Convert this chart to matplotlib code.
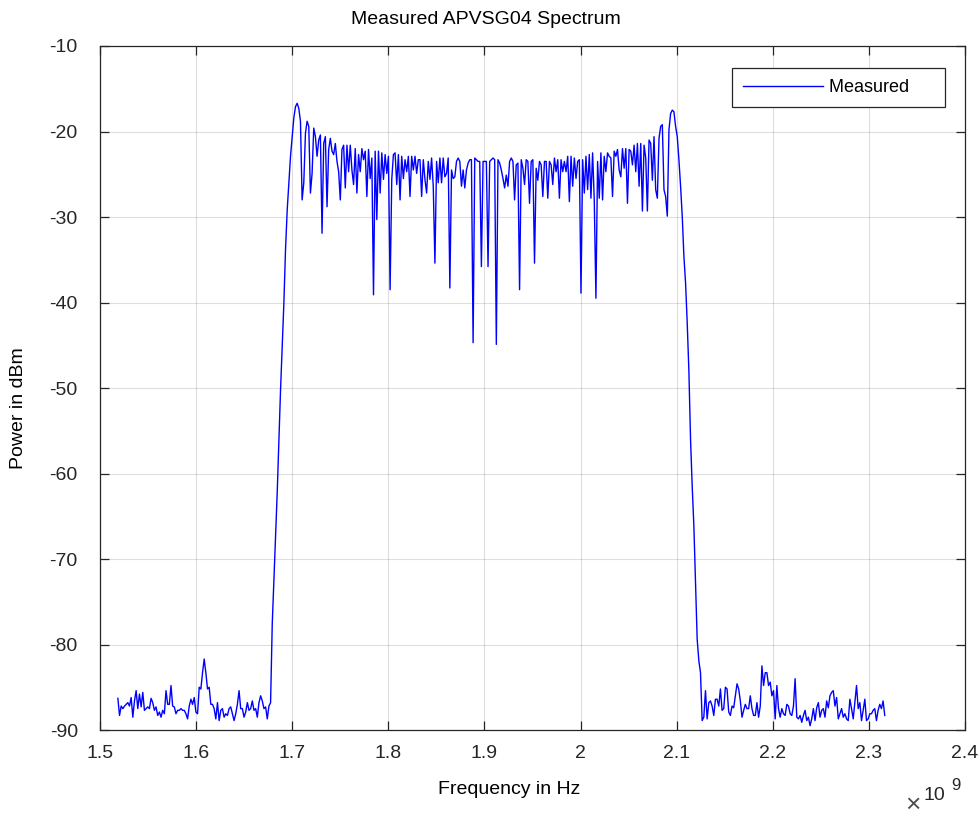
import numpy as np
import matplotlib.pyplot as plt
from matplotlib.ticker import FuncFormatter, MultipleLocator

plt.rcParams['font.family'] = ['Liberation Sans', 'DejaVu Sans']
plt.rcParams['axes.unicode_minus'] = False

# measured sweep, equally spaced samples (Hz)
f_start = 1.5186e9
f_stop = 2.3165e9

noise_left = [
    -86.3, -88.3, -87.2, -87.5, -87.2, -87.0, -86.8, -87.2, -86.2, -88.5,
    -86.6, -85.4, -87.5, -85.8, -87.3, -85.6, -87.7, -87.5, -87.3, -87.5,
    -86.3, -86.8, -87.7, -87.3, -88.3, -87.9, -88.5, -87.7, -88.1, -85.4,
    -87.0, -87.0, -84.8, -87.2, -87.3, -88.1, -87.7, -87.7, -87.5, -87.7,
    -87.7, -88.1, -88.7, -87.2, -86.4, -87.0, -86.2, -87.9, -88.1, -85.0,
    -85.2, -83.3, -81.7, -83.3, -85.2, -85.0, -87.0, -87.0, -87.5, -88.7,
    -86.8, -88.9, -87.7, -87.5, -88.5, -88.1, -88.3, -87.5, -87.3, -88.1,
    -88.9, -88.1, -87.0, -85.4, -87.5, -87.5, -88.5, -87.9, -86.8, -87.7,
    -87.5, -86.6, -87.7, -87.5, -88.5, -86.8, -86.0, -86.6, -87.5, -87.3,
    -88.7, -87.2, -86.8,
]

rise = [-77.6, -72.4, -67.1, -62.2, -56.0, -50.2, -45.0]

band_low = [
    -40.1, -33.8, -29.2, -26.0, -22.9, -20.6, -18.4, -17.1, -16.7, -17.3,
    -18.8, -28.0, -26.0, -20.2, -18.8, -19.4, -27.2, -24.9, -19.6, -20.6,
    -22.9, -21.0, -20.4, -31.9, -21.4, -20.6, -28.8, -22.1, -20.8, -22.3,
    -22.7, -21.4, -23.5, -24.7, -28.0, -22.1, -21.6, -26.6, -21.6, -24.7,
    -21.6, -24.5, -26.2, -22.0, -27.2, -22.7, -24.7, -22.0, -23.3, -22.3,
    -27.6, -22.1, -25.5, -23.1, -39.1, -22.3, -30.3, -22.3, -27.2, -22.5,
    -25.6, -22.7, -24.9, -22.9, -38.5, -25.6, -22.7, -22.5, -26.2, -22.7,
    -28.0, -22.9, -25.5, -23.3, -24.7, -22.9, -27.6, -22.9, -24.5, -22.9,
    -24.9, -23.3, -23.3, -27.6, -23.3, -25.6, -27.2, -23.5, -25.6, -23.1,
    -26.4, -35.4, -23.5, -26.0, -23.1, -26.0, -23.1, -25.3, -24.9, -23.1,
    -38.3, -24.5, -25.5, -25.3, -23.5, -23.1, -23.5, -26.4, -24.5, -26.6,
    -24.5, -23.7, -23.3, -23.3, -44.7, -23.1, -23.3, -23.5,
]

band_high = [
    -23.5, -35.8, -23.5, -23.5, -23.5, -35.8, -23.5, -23.3, -23.1, -23.3,
    -44.9, -23.3, -23.7, -24.5, -25.5, -26.6, -25.1, -26.4, -23.5, -23.1,
    -23.5, -28.0, -23.9, -23.7, -38.5, -23.3, -24.3, -26.2, -23.3, -23.5,
    -28.4, -23.5, -23.3, -35.4, -24.3, -25.7, -23.5, -23.9, -27.6, -23.5,
    -23.5, -27.8, -23.5, -23.9, -26.2, -23.1, -24.7, -23.3, -27.8, -23.3,
    -24.7, -23.5, -24.7, -22.9, -28.2, -22.9, -26.4, -23.1, -25.5, -23.5,
    -23.3, -38.9, -23.3, -27.2, -22.9, -26.8, -22.7, -27.8, -22.5, -28.0,
    -39.5, -23.5, -27.8, -22.5, -28.0, -22.9, -24.7, -22.5, -22.9, -23.1,
    -27.6, -22.3, -22.9, -22.1, -24.5, -25.3, -22.0, -24.3, -22.0, -28.4,
    -22.1, -22.3, -23.9, -21.6, -24.7, -21.4, -26.4, -21.4, -29.3, -21.6,
    -23.1, -29.3, -21.0, -21.4, -25.7, -20.6, -26.8, -27.8, -20.8, -19.4,
    -19.2, -26.8, -27.6, -29.9, -19.8, -17.9, -17.5, -17.7, -19.4, -20.6,
    -23.3, -26.4, -29.9, -34.6, -37.7, -42.4,
]

fall = [-48.0, -56.0, -61.5, -66.1, -72.8, -79.4, -81.9, -83.3]

noise_right = [
    -88.9, -88.5, -85.4, -88.7, -86.8, -86.6, -87.2, -88.3, -86.4, -86.4,
    -87.2, -85.2, -87.7, -87.5, -85.0, -85.2, -87.9, -88.3, -87.2, -87.4,
    -86.0, -84.6, -85.2, -86.6, -88.5, -87.7, -87.0, -87.5, -87.5, -86.0,
    -87.5, -88.3, -88.3, -86.8, -88.5, -87.2, -82.5, -84.8, -83.3, -83.3,
    -84.8, -84.4, -86.0, -85.4, -88.7, -84.8, -87.5, -88.5, -87.5, -88.1,
    -88.3, -87.0, -87.2, -88.1, -88.3, -87.2, -84.0, -88.5, -88.7, -88.3,
    -89.1, -88.3, -87.7, -88.9, -88.5, -89.5, -88.7, -87.5, -88.9, -87.4,
    -86.8, -88.5, -87.7, -87.5, -88.5, -86.6, -87.4, -86.0, -85.6, -85.4,
    -87.2, -86.2, -88.7, -88.1, -87.5, -88.5, -88.1, -88.7, -88.9, -86.4,
    -87.5, -88.7, -86.8, -84.8, -87.5, -86.8, -88.9, -87.7, -86.4, -88.9,
    -88.7, -88.1, -88.1, -87.7, -87.5, -88.9, -87.7, -87.0, -87.5, -86.6,
    -88.3,
]

power = np.array(noise_left + rise + band_low + band_high + fall + noise_right)
freq = np.linspace(f_start, f_stop, len(power))

fig = plt.figure(figsize=(9.79, 8.19), dpi=100)
ax = fig.add_axes([100 / 979, 89 / 819, 865 / 979, 684 / 819])

ax.plot(freq, power, color=(0, 0, 1), lw=1.0, label='Measured     ')

ax.set_xlim(1.5e9, 2.4e9)
ax.set_ylim(-90, -10)
ax.xaxis.set_major_locator(MultipleLocator(0.1e9))
ax.yaxis.set_major_locator(MultipleLocator(10))
ax.xaxis.set_major_formatter(FuncFormatter(lambda v, p: '%g' % round(v / 1e9, 2)))
ax.yaxis.set_major_formatter(FuncFormatter(lambda v, p: '%g' % v))

dark = (0.15, 0.15, 0.15)
ax.grid(True, color=(0.15, 0.15, 0.15), alpha=0.15, lw=0.8)
for s in ax.spines.values():
    s.set_color(dark)
    s.set_linewidth(0.9)
ax.tick_params(direction='in', length=6.5, width=0.9, colors=dark,
               labelsize=14, top=True, right=True)
ax.tick_params(axis='x', pad=11)
ax.tick_params(axis='y', pad=16)

ax.set_xlabel('Frequency in Hz', fontsize=14, color='black')
ax.xaxis.set_label_coords((509 - 100) / 865, -(789 - 730) / 684)
ax.xaxis.label.set_va('center')
ax.set_ylabel('Power in dBm', fontsize=14, color='black')
ax.yaxis.set_label_coords(-(100 - 19) / 865, (730 - 408) / 684)
ax.yaxis.label.set_va('center')

fig.text(486 / 979, 1 - 20 / 819, 'Measured APVSG04 Spectrum', fontsize=14,
         ha='center', va='center')

# exponent of the frequency axis
fig.text(913 / 979, 1 - 805 / 819, '\u00d7', fontsize=19, ha='center', va='center',
         color=(0.3, 0.3, 0.3))
fig.text(934 / 979, 1 - 795 / 819, '10', fontsize=14, ha='center', va='center', color=dark)
fig.text(956 / 979, 1 - 786 / 819, '9', fontsize=12, ha='center', va='center', color=dark)

leg = ax.legend(loc='upper right', bbox_to_anchor=(945 / 979, 1 - 68 / 819),
                bbox_transform=fig.transFigure, fontsize=13, handlelength=4.4,
                handletextpad=0.33, borderpad=0.62, borderaxespad=0,
                fancybox=False, edgecolor=dark, framealpha=1)
leg.get_frame().set_linewidth(0.9)

fig.savefig('out.png', dpi=100)
